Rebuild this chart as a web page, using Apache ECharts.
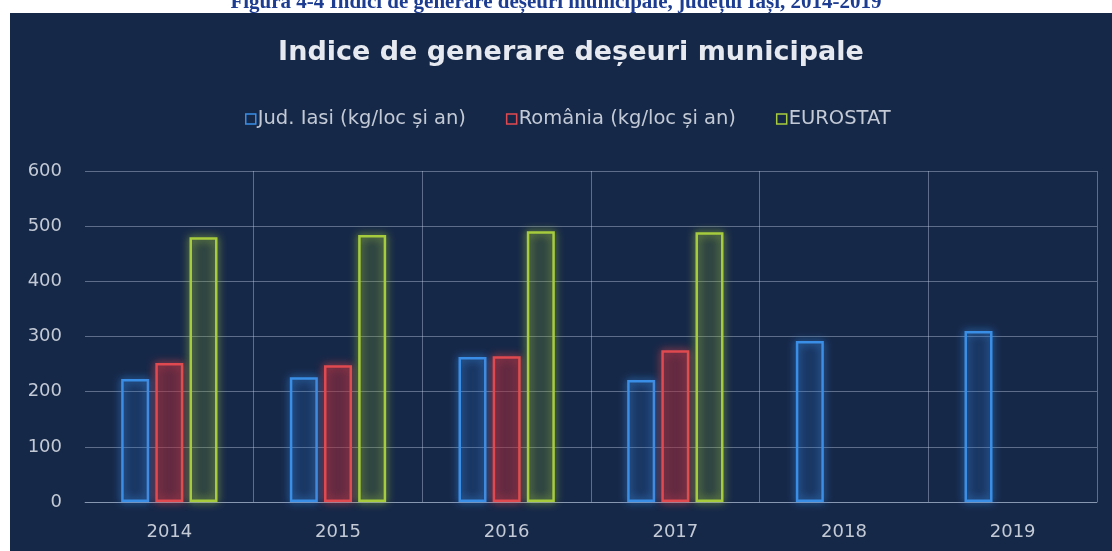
<!DOCTYPE html>
<html>
<head>
<meta charset="utf-8">
<script src="https://cdn.jsdelivr.net/npm/echarts@6/dist/echarts.min.js"></script>
<style>
  html, body { margin: 0; padding: 0; background: #fff; }
  #chart { width: 1112px; height: 551px; }
</style>
</head>
<body>
<div id="chart"></div>
<script>
// anii
var years = ["2014", "2015", "2016", "2017", "2018", "2019"];
// valori (kg/loc si an)
var iasi = [223, 226, 263, 221, 292, 310];
var romania = [252, 248, 264, 275, null, null];
var eurostat = [480, 484, 491, 489, null, null];
var seriesNames = ["Jud. Iasi (kg/loc și an)", "România (kg/loc și an)", "EUROSTAT"];

var gridColor = "rgba(195,208,232,0.42)";
var labelColor = "#c3cad6";
var font = "DejaVu Sans";

function barSerie(name, data, border, fill) {
    return {
        name: name,
        type: "bar",
        barWidth: 28,
        barGap: "22%",
        data: data,
        itemStyle: {
            color: fill,
            borderColor: border,
            borderWidth: 2.5,
            shadowBlur: 8,
            shadowColor: border
        }
    };
}

var chart = echarts.init(document.getElementById("chart"));
var option = {
    backgroundColor: "#162848",
    animation: false,
    graphic: [
        // banda alba de sus si din stanga (pagina scanata)
        { type: "rect", shape: { x: 0, y: 0, width: 1112, height: 13 }, style: { fill: "#ffffff" } },
        { type: "rect", shape: { x: 0, y: 0, width: 10, height: 551 }, style: { fill: "#ffffff" } },
        {
            type: "text",
            left: "center",
            top: -8,
            style: {
                text: "Figura 4-4 Indici de generare deșeuri municipale, județul Iași, 2014-2019",
                font: "bold 21px 'Liberation Serif'",
                fill: "#1d3d92"
            }
        },
        { type: "rect", shape: { x: 10, y: 13, width: 1102, height: 3 }, style: { fill: "#162848" } }
    ],
    title: {
        text: "Indice de generare deșeuri municipale",
        left: 566,
        textAlign: "center",
        top: 34,
        textStyle: {
            color: "#e6eaf0",
            fontFamily: font,
            fontWeight: "bold",
            fontSize: 27
        }
    },
    legend: {
        left: 240,
        top: 104,
        itemWidth: 10,
        itemHeight: 10,
        itemGap: 40,
        icon: "rect",
        textStyle: { color: labelColor, fontFamily: font, fontSize: 19.5, padding: [0, 0, 0, -3] },
        data: [
            { name: seriesNames[0], itemStyle: { color: "transparent", borderColor: "#3a8ee6", borderWidth: 1.5, shadowBlur: 0 } },
            { name: seriesNames[1], itemStyle: { color: "transparent", borderColor: "#e0494f", borderWidth: 1.5, shadowBlur: 0 } },
            { name: seriesNames[2], itemStyle: { color: "transparent", borderColor: "#a6cc3e", borderWidth: 1.5, shadowBlur: 0 } }
        ]
    },
    grid: {
        left: 85,
        right: 15,
        top: 171,
        bottom: 49
    },
    xAxis: {
        type: "category",
        data: years,
        axisLine: { show: true, lineStyle: { color: gridColor } },
        axisTick: { show: false },
        axisLabel: { color: labelColor, fontFamily: font, fontSize: 18, margin: 21 },
        splitLine: { show: true, showMinLine: false, showMaxLine: true, lineStyle: { color: gridColor, width: 1 } }
    },
    yAxis: {
        type: "value",
        min: 0,
        max: 600,
        interval: 100,
        axisLine: { show: false },
        axisTick: { show: false },
        axisLabel: { color: labelColor, fontFamily: font, fontSize: 18, margin: 23 },
        splitLine: { lineStyle: { color: gridColor, width: 1 } }
    },
    series: [
        barSerie(seriesNames[0], iasi, "#3a8ee6", "rgba(40,90,170,0.12)"),
        barSerie(seriesNames[1], romania, "#e0494f", "rgba(140,25,45,0.3)"),
        barSerie(seriesNames[2], eurostat, "#a6cc3e", "rgba(90,110,40,0.14)")
    ]
};
chart.setOption(option);
</script>
</body>
</html>
